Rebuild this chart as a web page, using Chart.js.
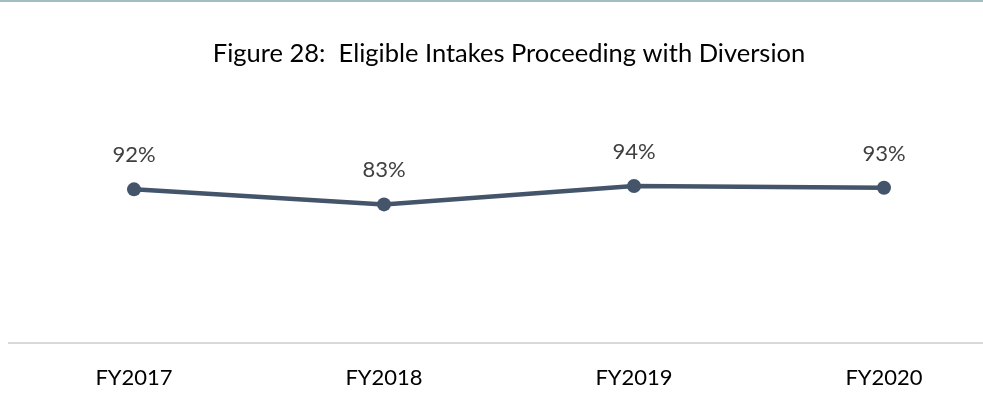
<!DOCTYPE html>
<html lang="en">
<head>
    <meta charset="UTF-8">
    <title>Figure 28</title>
    <script src="https://cdn.jsdelivr.net/npm/chart.js"></script>
    <style>
        html, body { margin: 0; padding: 0; background: #fff; overflow: hidden; }
        #wrap { position: relative; width: 983px; height: 408px; overflow: hidden; }
        #topline { position: absolute; left: 0; top: 0; width: 983px; height: 2px; background: #a0bfc1; }
        #chart { position: absolute; left: 0; top: 0; }
    </style>
</head>
<body>
    <div id="wrap">
        <canvas id="chart" width="1018" height="408"></canvas>
        <div id="topline"></div>
    </div>

    <script>
        const titleText = 'Figure 28:  Eligible Intakes Proceeding with Diversion';
        const years = ['FY2017', 'FY2018', 'FY2019', 'FY2020'];
        const diversionPct = [92, 83, 94, 93];

        const pctLabels = {
            id: 'pctLabels',
            afterDatasetsDraw(chart) {
                const ctx = chart.ctx;
                const meta = chart.getDatasetMeta(0);
                ctx.save();
                ctx.font = '22px Lato';
                ctx.fillStyle = '#404040';
                ctx.textAlign = 'center';
                ctx.textBaseline = 'middle';
                meta.data.forEach((pt, i) => {
                    ctx.fillText(diversionPct[i] + '%', pt.x, pt.y - 34);
                });
                ctx.restore();
            }
        };

        new Chart(document.getElementById('chart'), {
            type: 'line',
            data: {
                labels: years,
                datasets: [{
                    data: diversionPct,
                    borderColor: '#44546a',
                    backgroundColor: '#44546a',
                    borderWidth: 4.5,
                    pointRadius: 7,
                    pointHoverRadius: 7,
                    pointBackgroundColor: '#44546a',
                    pointBorderWidth: 0,
                    tension: 0,
                    fill: false
                }]
            },
            options: {
                responsive: false,
                animation: false,
                devicePixelRatio: 1,
                layout: { padding: { left: 9, right: 9, top: 0, bottom: 17 } },
                plugins: {
                    legend: { display: false },
                    tooltip: { enabled: false },
                    title: {
                        display: true,
                        text: titleText,
                        color: '#000',
                        font: { family: 'Lato', size: 25.5, weight: 'normal' },
                        padding: { top: 38, bottom: 74 }
                    }
                },
                scales: {
                    x: {
                        offset: true,
                        grid: { display: false, drawTicks: false },
                        border: { display: true, color: '#d9d9d9', width: 2 },
                        ticks: { color: '#000', font: { family: 'Lato', size: 22 }, padding: 22 },
                        afterFit(scale) { scale.height = 48; }
                    },
                    y: {
                        display: false,
                        min: 0,
                        max: 120
                    }
                }
            },
            plugins: [pctLabels]
        });
    </script>
</body>
</html>
